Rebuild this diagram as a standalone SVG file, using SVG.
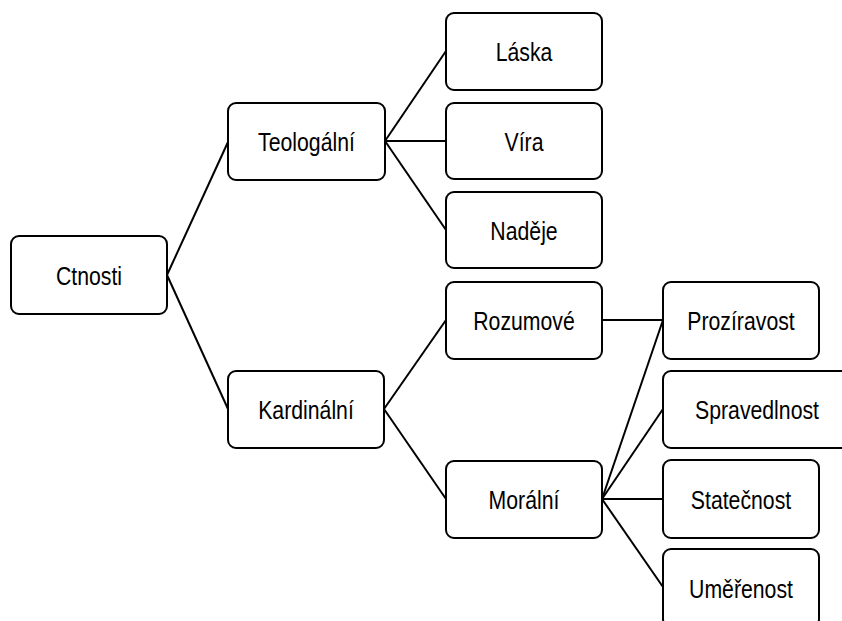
<svg xmlns="http://www.w3.org/2000/svg" width="842" height="621" viewBox="0 0 842 621">
<style>
.box{fill:#fff;stroke:#000;stroke-width:2}
.lbl{font-family:"Liberation Sans",Arial,sans-serif;font-size:25px;fill:#000;text-anchor:middle}
.con line{stroke:#000;stroke-width:2;fill:none}
</style>
<rect width="842" height="621" fill="#fff"/>
<g id="connectors" class="con">
<line x1="167" y1="275" x2="228" y2="142"/>
<line x1="167" y1="275" x2="228" y2="409"/>
<line x1="385" y1="141" x2="446" y2="51"/>
<line x1="385" y1="141" x2="446" y2="141"/>
<line x1="385" y1="141" x2="446" y2="230"/>
<line x1="384" y1="409" x2="446" y2="320"/>
<line x1="384" y1="409" x2="446" y2="499"/>
<line x1="602" y1="320" x2="663" y2="320"/>
<line x1="602" y1="499" x2="663" y2="320"/>
<line x1="602" y1="499" x2="663" y2="409"/>
<line x1="602" y1="499" x2="663" y2="499"/>
<line x1="602" y1="499" x2="663" y2="587"/>
</g>
<g id="ctnosti"><rect class="box" x="11" y="236" width="156" height="78" rx="8"/><text class="lbl" transform="translate(89,284.5) scale(0.85 1)">Ctnosti</text></g>
<g id="teologalni"><rect class="box" x="228" y="103" width="157" height="77" rx="8"/><text class="lbl" transform="translate(306.5,151) scale(0.85 1)">Teologální</text></g>
<g id="kardinalni"><rect class="box" x="228" y="371" width="156" height="77" rx="8"/><text class="lbl" transform="translate(306,419) scale(0.85 1)">Kardinální</text></g>
<g id="laska"><rect class="box" x="446" y="13" width="156" height="77" rx="8"/><text class="lbl" transform="translate(524,61) scale(0.85 1)">Láska</text></g>
<g id="vira"><rect class="box" x="446" y="103" width="156" height="76" rx="8"/><text class="lbl" transform="translate(524,150.5) scale(0.85 1)">Víra</text></g>
<g id="nadeje"><rect class="box" x="446" y="192" width="156" height="76" rx="8"/><text class="lbl" transform="translate(524,239.5) scale(0.85 1)">Naděje</text></g>
<g id="rozumove"><rect class="box" x="446" y="282" width="156" height="77" rx="8"/><text class="lbl" transform="translate(524,330) scale(0.85 1)">Rozumové</text></g>
<g id="moralni"><rect class="box" x="446" y="461" width="156" height="77" rx="8"/><text class="lbl" transform="translate(524,509) scale(0.85 1)">Morální</text></g>
<g id="proziravost"><rect class="box" x="663" y="282" width="156" height="77" rx="8"/><text class="lbl" transform="translate(741,330) scale(0.85 1)">Prozíravost</text></g>
<g id="spravedlnost"><rect class="box" x="663" y="371" width="190" height="77" rx="8"/><text class="lbl" transform="translate(757,419) scale(0.85 1)">Spravedlnost</text></g>
<g id="statecnost"><rect class="box" x="663" y="460" width="156" height="78" rx="8"/><text class="lbl" transform="translate(741,508.5) scale(0.85 1)">Statečnost</text></g>
<g id="umerenost"><rect class="box" x="663" y="549" width="156" height="78" rx="8"/><text class="lbl" transform="translate(741,597.5) scale(0.85 1)">Uměřenost</text></g>
</svg>
